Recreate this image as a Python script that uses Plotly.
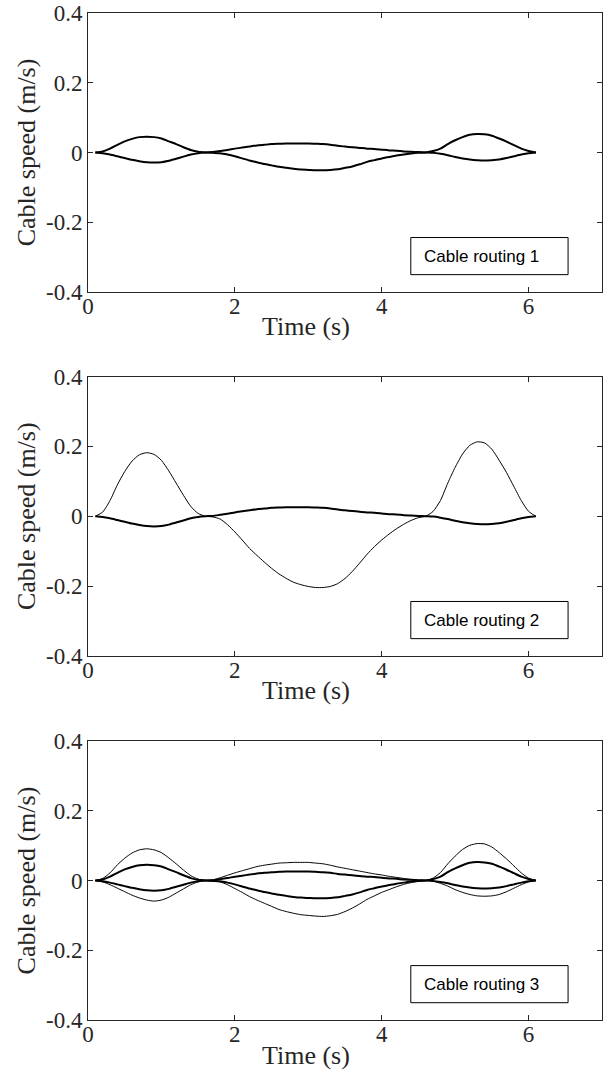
import plotly.graph_objects as go

# ---------------- data ----------------
TIME = [0.1, 0.2, 0.3, 0.4, 0.5, 0.6, 0.7, 0.8, 0.9, 1.0, 1.1, 1.2, 1.3, 1.4, 1.5, 1.6,
        1.7, 1.8, 1.9, 2.0, 2.1, 2.2, 2.3, 2.4, 2.5, 2.6, 2.7, 2.8, 2.9, 3.0, 3.1,
        3.2, 3.3, 3.4, 3.5, 3.6, 3.7, 3.8, 3.9, 4.0, 4.1, 4.2, 4.3, 4.4, 4.5, 4.6,
        4.7, 4.8, 4.9, 5.0, 5.1, 5.2, 5.3, 5.4, 5.5, 5.6, 5.7, 5.8, 5.9, 6.0, 6.1]

# thick cable A (routings 1 and 3)
CABLE_A = [0, 0.003, 0.011, 0.022, 0.032, 0.039, 0.044, 0.045, 0.044, 0.040, 0.032, 0.024, 0.015, 0.007, 0.002, 0,
           -0.001, -0.002, -0.006, -0.011, -0.017, -0.023, -0.028, -0.033, -0.037, -0.041, -0.044, -0.047, -0.049, -0.050, -0.051,
           -0.051, -0.050, -0.048, -0.044, -0.040, -0.034, -0.027, -0.022, -0.017, -0.013, -0.009, -0.006, -0.003, -0.001, 0,
           0.004, 0.011, 0.024, 0.035, 0.044, 0.051, 0.053, 0.052, 0.048, 0.040, 0.031, 0.021, 0.011, 0.004, 0]

# thick cable B (all routings)
CABLE_B = [0, -0.002, -0.006, -0.011, -0.016, -0.021, -0.025, -0.028, -0.029, -0.028, -0.024, -0.018, -0.012, -0.006, -0.002, 0,
           0.001, 0.004, 0.007, 0.011, 0.014, 0.017, 0.020, 0.022, 0.024, 0.025, 0.026, 0.026, 0.026, 0.026, 0.025,
           0.024, 0.022, 0.019, 0.017, 0.015, 0.013, 0.011, 0.010, 0.008, 0.006, 0.005, 0.003, 0.002, 0.001, 0,
           -0.001, -0.004, -0.008, -0.013, -0.017, -0.020, -0.022, -0.023, -0.022, -0.020, -0.016, -0.011, -0.006, -0.002, 0]

# thin cable of routing 2
CABLE_C = [0, 0.012, 0.045, 0.090, 0.128, 0.158, 0.176, 0.182, 0.177, 0.160, 0.130, 0.095, 0.060, 0.028, 0.008, 0,
           -0.002, -0.008, -0.024, -0.045, -0.068, -0.092, -0.112, -0.131, -0.149, -0.165, -0.178, -0.189, -0.196, -0.201, -0.204,
           -0.204, -0.201, -0.193, -0.178, -0.158, -0.134, -0.109, -0.087, -0.068, -0.051, -0.036, -0.023, -0.012, -0.004, 0,
           0.014, 0.045, 0.095, 0.140, 0.178, 0.203, 0.213, 0.210, 0.192, 0.160, 0.125, 0.085, 0.045, 0.014, 0]

# thin cables of routing 3
CABLE_E = [0, 0.006, 0.022, 0.045, 0.064, 0.079, 0.088, 0.091, 0.088, 0.080, 0.065, 0.048, 0.030, 0.014, 0.004, 0,
           -0.001, -0.004, -0.012, -0.023, -0.034, -0.046, -0.056, -0.065, -0.074, -0.083, -0.089, -0.094, -0.098, -0.100, -0.102,
           -0.103, -0.101, -0.097, -0.089, -0.079, -0.067, -0.054, -0.044, -0.034, -0.026, -0.018, -0.011, -0.006, -0.002, 0,
           0.007, 0.023, 0.048, 0.070, 0.089, 0.101, 0.106, 0.105, 0.096, 0.080, 0.062, 0.042, 0.022, 0.007, 0]

CABLE_D = [0, -0.004, -0.012, -0.022, -0.032, -0.042, -0.050, -0.056, -0.059, -0.056, -0.048, -0.036, -0.024, -0.012, -0.004, 0,
           0.002, 0.008, 0.015, 0.022, 0.028, 0.034, 0.040, 0.044, 0.047, 0.050, 0.051, 0.052, 0.052, 0.052, 0.050,
           0.048, 0.044, 0.039, 0.035, 0.031, 0.027, 0.023, 0.019, 0.016, 0.012, 0.009, 0.006, 0.003, 0.001, 0,
           -0.002, -0.008, -0.016, -0.026, -0.034, -0.040, -0.044, -0.045, -0.044, -0.040, -0.032, -0.022, -0.012, -0.004, 0]

PANEL_LABELS = ["Cable routing 1", "Cable routing 2", "Cable routing 3"]
X_TITLE = "Time (s)"
Y_TITLE = "Cable speed (m/s)"
X_TICKS = [0, 2, 4, 6]
Y_TICKS = [-0.4, -0.2, 0, 0.2, 0.4]
Y_TICK_TEXT = ["-0.4", "-0.2", "0", "0.2", "0.4"]

# (series, width) per panel
PANELS = [
    [(CABLE_A, 2), (CABLE_B, 2)],
    [(CABLE_C, 1), (CABLE_B, 2)],
    [(CABLE_E, 1), (CABLE_D, 1), (CABLE_A, 2), (CABLE_B, 2)],
]

# ---------------- figure ----------------
SERIF = "Liberation Serif, Times New Roman, serif"
SANS = "Liberation Sans, Arial, sans-serif"
AXC = "#262626"

fig = go.Figure()
domains = [[0.723, 1.0], [0.3615, 0.639], [0.0, 0.277]]

for i, series in enumerate(PANELS):
    n = "" if i == 0 else str(i + 1)
    for vals, w in series:
        fig.add_trace(go.Scatter(
            x=TIME, y=vals, mode="lines",
            line=dict(color="black", width=w, shape="spline", smoothing=0.6),
            xaxis="x" + n, yaxis="y" + n, showlegend=False, hoverinfo="skip"))

    common = dict(showline=True, linecolor=AXC, linewidth=1, mirror="ticks",
                  ticks="inside", ticklen=5, tickcolor=AXC, tickwidth=1,
                  showgrid=False, zeroline=False, automargin=False,
                  tickfont=dict(family=SERIF, size=23, color="#262626"))
    fig.layout["xaxis" + n] = dict(
        common, domain=[0, 1], anchor="y" + n, range=[0, 7],
        tickvals=X_TICKS, ticktext=[str(v) for v in X_TICKS],
        ticklabelstandoff=-7)
    fig.layout["yaxis" + n] = dict(
        common, domain=domains[i], anchor="x" + n, range=[-0.4, 0.4],
        tickvals=Y_TICKS, ticktext=Y_TICK_TEXT,
        title=dict(text=Y_TITLE, font=dict(family=SERIF, size=26, color="#262626"), standoff=2))

    # x-axis title (sits left of the axis centre in the cropped original)
    fig.add_annotation(text=X_TITLE, xref="x" + n + " domain", yref="y" + n + " domain",
                       x=0.424, y=0, xanchor="center", yanchor="middle", yshift=-35,
                       showarrow=False, font=dict(family=SERIF, size=26, color="#262626"))

    fig.add_shape(type="rect", xref="x" + n + " domain", yref="y" + n + " domain",
                  x0=0.628, x1=0.934, y0=0.062, y1=0.195,
                  line=dict(color="black", width=1), fillcolor="white", layer="above")
    fig.add_annotation(text=PANEL_LABELS[i], xref="x" + n + " domain", yref="y" + n + " domain",
                       x=0.65, y=0.128, xanchor="left", yanchor="middle", showarrow=False,
                       font=dict(family=SANS, size=17, color="black"))

fig.update_layout(
    width=608, height=1086,
    margin=dict(l=88, r=6, t=13, b=66),
    paper_bgcolor="white", plot_bgcolor="white",
)

# remove the default 8 px page margin so the figure fills the window exactly
fig.write_html("out.html", config={"displayModeBar": False},
               post_script="document.body.style.margin='0';")
